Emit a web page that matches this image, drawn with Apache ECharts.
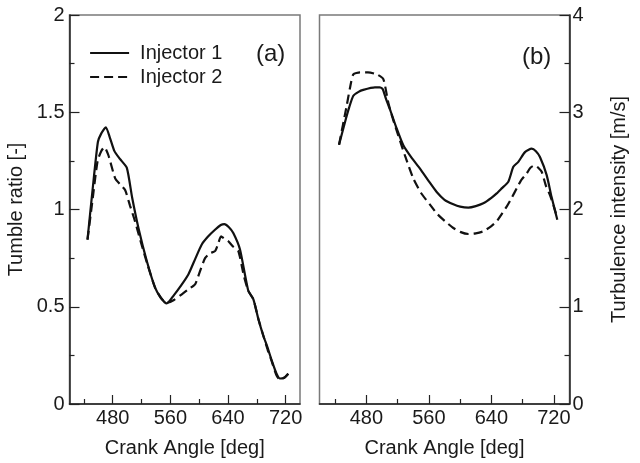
<!DOCTYPE html>
<html>
<head>
<meta charset="utf-8">
<script src="https://cdn.jsdelivr.net/npm/echarts@6/dist/echarts.min.js"></script>
<style>
  html, body { margin: 0; padding: 0; background: #fff; }
  #chart { width: 640px; height: 463px; }
</style>
</head>
<body>
<div id="chart"></div>
<script>
// Crank angle samples [deg] and values for each injector
const tumbleAngle1 = [445, 452, 459.4, 464, 470.5, 476, 482.4, 490, 499.6, 507, 515.7, 527.3, 538.8, 547, 555, 565, 575, 585, 595, 603.6, 612, 622, 630, 635, 641, 647.4, 656.7, 668.2, 675.2, 682, 689, 695, 700.7, 707, 712.2, 718, 723.7];
const tumbleInj1 = [0.845, 1.10, 1.347, 1.39, 1.423, 1.37, 1.30, 1.26, 1.214, 1.06, 0.905, 0.735, 0.598, 0.545, 0.517, 0.56, 0.61, 0.666, 0.75, 0.82, 0.86, 0.896, 0.92, 0.925, 0.91, 0.879, 0.794, 0.582, 0.539, 0.44, 0.352, 0.29, 0.224, 0.16, 0.131, 0.135, 0.156];

const tumbleAngle2 = [445, 452, 459, 464, 468.5, 474, 483.4, 490, 497.2, 504, 511, 520, 528, 538.8, 547, 555, 565, 575.9, 585, 594.3, 600, 608.2, 615, 622, 626, 630.4, 635, 640.5, 647, 654.4, 662, 668.2, 675.2, 682, 689, 695, 700.7, 707, 712.2, 718, 723.7];
const tumbleInj2 = [0.845, 1.05, 1.25, 1.30, 1.321, 1.279, 1.16, 1.13, 1.10, 1.02, 0.939, 0.82, 0.72, 0.598, 0.545, 0.52, 0.535, 0.564, 0.59, 0.615, 0.67, 0.75, 0.775, 0.786, 0.82, 0.862, 0.85, 0.837, 0.81, 0.786, 0.66, 0.582, 0.539, 0.44, 0.352, 0.28, 0.22, 0.15, 0.125, 0.135, 0.156];

const turbAngle1 = [445, 452.6, 458, 463.3, 470, 476, 491, 497, 500.9, 505, 510.2, 518, 527.3, 538, 548.6, 560, 570, 580, 591.3, 600, 610.5, 620, 629.7, 640, 646.8, 653.2, 661.7, 668.1, 674.5, 683, 691.6, 697, 702.2, 710.8, 717, 724.4];
const turbInj1 = [2.666, 2.898, 3.05, 3.17, 3.21, 3.23, 3.255, 3.255, 3.238, 3.14, 3.03, 2.85, 2.66, 2.53, 2.42, 2.29, 2.18, 2.10, 2.054, 2.03, 2.02, 2.035, 2.064, 2.12, 2.166, 2.217, 2.286, 2.439, 2.49, 2.59, 2.626, 2.60, 2.54, 2.353, 2.13, 1.894];

const turbAngle2 = [445, 454.8, 459, 463.3, 471.8, 482, 493.2, 501.7, 508, 514, 520.9, 530, 540, 550, 561.4, 570, 580.6, 591.3, 600, 610.5, 620, 629.7, 640, 646.8, 653, 659.6, 666, 672.4, 678, 685.2, 690, 695.8, 700, 704.4, 710, 715, 720, 724.4];
const turbInj2 = [2.666, 3.067, 3.25, 3.39, 3.41, 3.41, 3.39, 3.34, 3.10, 2.93, 2.76, 2.54, 2.32, 2.17, 2.05, 1.96, 1.88, 1.81, 1.77, 1.748, 1.755, 1.776, 1.83, 1.878, 1.95, 2.03, 2.12, 2.217, 2.30, 2.37, 2.43, 2.455, 2.43, 2.388, 2.24, 2.149, 2.03, 1.91];

const angleMajor = [480, 560, 640, 720];
const angleMinor = [440, 520, 600, 680];
const seriesNames = ['Injector 1', 'Injector 2'];

const pairs = (xs, ys) => xs.map((x, i) => [x, ys[i]]);

const FONT = 'Liberation Sans, Arial, Helvetica, sans-serif';
const FS = 20;
const TXT = '#1a1a1a';
const AXIS = '#222';
const FRAME = '#7a7a7a';
const INK = '#111';

const grids = [
  { left: 69.5, top: 15, width: 230.5, height: 392.3, show: true, borderColor: FRAME, borderWidth: 1.5 },
  { left: 319.5, top: 15, width: 250, height: 392.3, show: true, borderColor: FRAME, borderWidth: 1.5 }
];

function majorX(gi) {
  return {
    type: 'value', gridIndex: gi, min: 420, max: 740,
    name: 'Crank Angle [deg]', nameLocation: 'middle', nameGap: 34,
    nameTextStyle: { fontFamily: FONT, fontSize: FS, color: TXT },
    axisLine: { show: true, onZero: false, lineStyle: { color: AXIS, width: 1.5 } },
    axisTick: { show: true, inside: true, length: 9, customValues: angleMajor, lineStyle: { color: AXIS, width: 1.2 } },
    axisLabel: { customValues: angleMajor, margin: 4, fontFamily: FONT, fontSize: FS, color: TXT },
    splitLine: { show: false }
  };
}
function minorX(gi) {
  return {
    type: 'value', gridIndex: gi, min: 420, max: 740, position: 'bottom',
    axisLine: { show: false },
    axisTick: { show: true, inside: true, length: 5, customValues: angleMinor, lineStyle: { color: AXIS, width: 1.2 } },
    axisLabel: { show: false },
    splitLine: { show: false }
  };
}

function curve(name, xi, yi, data, dashed) {
  return {
    name, type: 'line', xAxisIndex: xi, yAxisIndex: yi, data,
    showSymbol: false, symbol: 'none', smooth: 0.2,
    itemStyle: { color: INK },
    lineStyle: { color: INK, width: 2.2, type: dashed ? [9, 5] : 'solid' }
  };
}

const option = {
  animation: false,
  backgroundColor: '#fff',
  grid: grids,
  xAxis: [majorX(0), minorX(0), majorX(1), minorX(1)],
  yAxis: [
    {
      type: 'value', gridIndex: 0, min: 0, max: 2, interval: 0.5, position: 'left',
      name: 'Tumble ratio [-]', nameLocation: 'middle', nameGap: 43,
      nameTextStyle: { fontFamily: FONT, fontSize: FS, color: TXT },
      axisLine: { show: true, lineStyle: { color: AXIS, width: 1.5 } },
      axisTick: { show: true, inside: true, length: 10, lineStyle: { color: AXIS, width: 1.2 } },
      minorTick: { show: true, splitNumber: 2, length: 5, lineStyle: { color: AXIS, width: 1.2 } },
      axisLabel: { margin: 5, fontFamily: FONT, fontSize: FS, color: TXT },
      splitLine: { show: false }
    },
    {
      type: 'value', gridIndex: 1, min: 0, max: 4, interval: 1, position: 'right',
      name: 'Turbulence intensity [m/s]', nameLocation: 'middle', nameGap: 40,
      nameTextStyle: { fontFamily: FONT, fontSize: FS, color: TXT },
      axisLine: { show: true, lineStyle: { color: AXIS, width: 1.5 } },
      axisTick: { show: true, inside: true, length: 10, lineStyle: { color: AXIS, width: 1.2 } },
      minorTick: { show: true, splitNumber: 2, length: 5, lineStyle: { color: AXIS, width: 1.2 } },
      axisLabel: { margin: 3, fontFamily: FONT, fontSize: FS, color: TXT },
      splitLine: { show: false }
    }
  ],
  legend: {
    data: seriesNames,
    orient: 'vertical', left: 84, top: 38,
    itemWidth: 39, itemHeight: 14, itemGap: 4,
    itemStyle: { opacity: 0 },
    lineStyle: { color: INK, width: 2.2 },
    textStyle: { fontFamily: FONT, fontSize: FS, color: TXT, lineHeight: 20, padding: [0, 0, 0, 6] }
  },
  graphic: [
    { type: 'text', left: 256, top: 42, style: { text: '(a)', font: '24px ' + FONT, fill: TXT } },
    { type: 'text', left: 522, top: 45, style: { text: '(b)', font: '24px ' + FONT, fill: TXT } }
  ],
  series: [
    curve(seriesNames[0], 0, 0, pairs(tumbleAngle1, tumbleInj1), false),
    curve(seriesNames[1], 0, 0, pairs(tumbleAngle2, tumbleInj2), true),
    curve(seriesNames[0], 2, 1, pairs(turbAngle1, turbInj1), false),
    curve(seriesNames[1], 2, 1, pairs(turbAngle2, turbInj2), true)
  ]
};

const chart = echarts.init(document.getElementById('chart'), null, { renderer: 'canvas' });
chart.setOption(option);
</script>
</body>
</html>
